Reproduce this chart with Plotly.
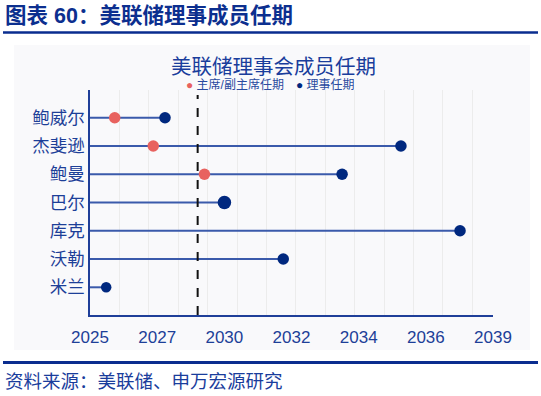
import plotly.graph_objects as go
import numpy as np

# ---------------- data ----------------
members = ["鲍威尔", "杰斐逊", "鲍曼", "巴尔", "库克", "沃勒", "米兰"]
chair_term_end = [2025.84, 2027.15, 2028.89, None, None, None, None]
governor_term_end = [2027.55, 2035.57, 2033.57, 2029.57, 2037.58, 2031.57, 2025.55]
today_marker = 2028.66
axis_start = 2025.0
axis_end = 2038.7
tick_labels = ["2025", "2027", "2030", "2032", "2034", "2036", "2039"]

# ---------------- layout constants ----------------
W, H = 541, 396
PL, PR, PT, PB = 90, 493, 90, 315  # plot area pixel box

BLUE_DARK = "#00287f"
RED = "#e8625f"
TXT_BLUE = "#1d3f98"
LINE_BLUE = "#3a5aab"
FONT = "Liberation Sans, Noto Sans CJK SC, sans-serif"

def px_x(p):
    return (p - PL) / (PR - PL)

def px_y(p):
    return (PB - p) / (PB - PT)

fig = go.Figure()

ypos = list(range(len(members)))

# stems
for i, end in enumerate(governor_term_end):
    fig.add_trace(go.Scatter(
        x=[axis_start, end], y=[ypos[i], ypos[i]], mode="lines",
        line=dict(color=LINE_BLUE, width=2), showlegend=False, hoverinfo="skip"))

# governor term end dots
sizes = [11.5, 11.5, 11.5, 13.5, 11.5, 11.5, 10.5]
fig.add_trace(go.Scatter(
    x=governor_term_end, y=ypos, mode="markers",
    marker=dict(color=BLUE_DARK, size=sizes, opacity=1, line=dict(width=0)),
    showlegend=False, name="理事任期"))

# chair / vice chair term end dots
cx = [v for v in chair_term_end if v is not None]
cy = [ypos[i] for i, v in enumerate(chair_term_end) if v is not None]
fig.add_trace(go.Scatter(
    x=cx, y=cy, mode="markers",
    marker=dict(color=RED, size=11.5, opacity=1, line=dict(width=0)),
    showlegend=False, name="主席/副主席任期"))

tickvals = list(np.linspace(axis_start, axis_end, len(tick_labels)))

fig.update_layout(
    width=W, height=H,
    margin=dict(l=PL, r=W - PR, t=PT, b=H - PB, pad=0),
    paper_bgcolor="white", plot_bgcolor="rgba(0,0,0,0)",
    font=dict(family=FONT, color=TXT_BLUE),
    xaxis=dict(
        range=[axis_start, axis_end], tickvals=tickvals, ticktext=tick_labels,
        showgrid=False, zeroline=False, showline=True, linecolor="#1f3f99", linewidth=1.5,
        ticks="", tickfont=dict(size=17, color=TXT_BLUE), ticklabelstandoff=6,
        minor=dict(tick0=2025, dtick=1, showgrid=True, gridcolor="#ececec", gridwidth=1),
    ),
    yaxis=dict(
        range=[6.98, -0.98], tickvals=ypos, ticktext=members,
        showgrid=False, zeroline=False, showline=True, linecolor="#1f3f99", linewidth=1.5,
        ticks="", tickfont=dict(size=17.5, color=TXT_BLUE), ticklabelstandoff=0,
    ),
    showlegend=False,
)

shapes = [
    # light panel background
    dict(type="rect", xref="paper", yref="paper", layer="below",
         x0=px_x(14), x1=px_x(530), y0=px_y(350), y1=px_y(45),
         fillcolor="#f9f9fb", line=dict(width=0)),
    # header rule
    dict(type="line", xref="paper", yref="paper",
         x0=px_x(3), x1=px_x(538), y0=px_y(32.5), y1=px_y(32.5),
         line=dict(color="#0a2d8f", width=2.5)),
    # footer rule
    dict(type="line", xref="paper", yref="paper",
         x0=px_x(3), x1=px_x(538), y0=px_y(362.5), y1=px_y(362.5),
         line=dict(color="#0a2d8f", width=3)),
    # today dashed line
    dict(type="line", xref="x", yref="paper",
         x0=today_marker, x1=today_marker, y0=0, y1=px_y(95),
         line=dict(color="#111111", width=2, dash="dash")),
]
fig.update_layout(shapes=shapes)

annotations = [
    dict(text="<b>图表 60：美联储理事成员任期</b>", xref="paper", yref="paper",
         x=px_x(3), y=px_y(16), xanchor="left", yanchor="middle", showarrow=False,
         font=dict(size=21.5, color="#0c2f8f", family=FONT)),
    dict(text="美联储理事会成员任期", xref="paper", yref="paper",
         x=px_x(273), y=px_y(66), xanchor="center", yanchor="middle", showarrow=False,
         height=22, font=dict(size=20.5, color="#1a3d9c", family=FONT)),
    dict(text=f"<span style='color:{RED}'>●</span> 主席/副主席任期", xref="paper", yref="paper",
         x=px_x(184), y=px_y(84), xanchor="left", yanchor="middle", showarrow=False,
         height=13, font=dict(size=12, color="#2a4aa0", family=FONT)),
    dict(text=f"<span style='color:{BLUE_DARK}'>●</span> 理事任期", xref="paper", yref="paper",
         x=px_x(294), y=px_y(84), xanchor="left", yanchor="middle", showarrow=False,
         height=13, font=dict(size=12, color="#2a4aa0", family=FONT)),
    dict(text="资料来源：美联储、申万宏源研究", xref="paper", yref="paper",
         x=px_x(3), y=px_y(381), xanchor="left", yanchor="middle", showarrow=False,
         font=dict(size=18.5, color="#1a3d9c", family=FONT)),
]
fig.update_layout(annotations=annotations)

fig.write_html(
    "out.html",
    config={"displayModeBar": False},
    post_script="document.body.style.margin='0';document.body.style.overflow='hidden';",
)
